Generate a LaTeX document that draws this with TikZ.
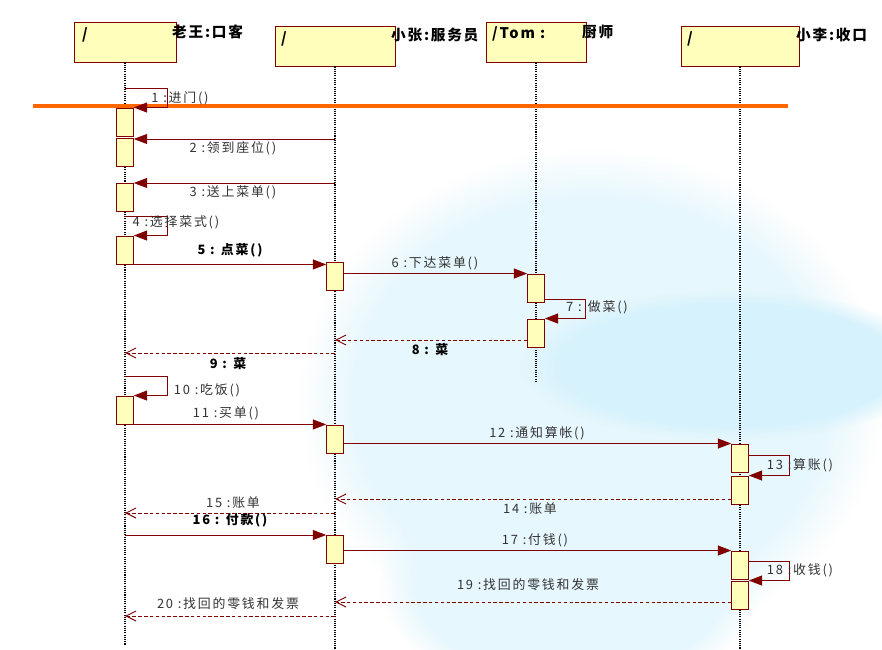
\documentclass[tikz,border=0pt]{standalone}
\usepackage{fontspec}
\setmainfont{Noto Sans CJK SC}
\newfontfamily\lblfont[LetterSpace=14]{Noto Sans CJK SC}
\newfontfamily\hdrfont[LetterSpace=12]{Noto Sans CJK SC}
\usetikzlibrary{arrows.meta, positioning, fadings}
\definecolor{umlred}{RGB}{128,0,0}
\definecolor{umlfill}{RGB}{255,255,187}
\definecolor{barorange}{RGB}{255,102,0}

\begin{document}
\begin{tikzpicture}[
  x=0.03cm, y=-0.03cm,
  obj/.style={draw=umlred, fill=umlfill, thick, minimum height=1.2cm, inner sep=0pt},
  act/.style={draw=umlred, fill=umlfill, thick, minimum width=0.5cm,
              minimum height=0.84cm, inner sep=0pt},
  life/.style={densely dotted, line width=0.9pt, black},
  msg/.style={-{Triangle[length=4mm, width=3mm]}, thick, draw=umlred},
  ret/.style={-{Straight Barb[length=3mm, width=3mm]}, thick, densely dashed, draw=umlred},
  lbl/.style={font=\lblfont\fontsize{11}{13}\selectfont, text=black!80, inner sep=1pt},
  blbl/.style={lbl, font=\lblfont\fontsize{11}{13}\selectfont\bfseries, text=black},
  hdr/.style={font=\hdrfont\fontsize{12.5}{14}\selectfont\bfseries, inner sep=0pt},
  tint/.style={path fading=circle with fuzzy edge 20 percent},
]
  \useasboundingbox (0,0) rectangle (882,650);
  \fill[white] (0,0) rectangle (882,650);
  % background tint
  \fill[cyan!10, tint] (300,150) rectangle (882,650);
  \fill[cyan!16, tint] (520,290) rectangle (940,440);
  \fill[cyan!10, tint] (380,470) rectangle (760,700);

  % objects
  \node[obj, minimum width=3.06cm] (cust) at (125,42) {};
  \node[obj, minimum width=3.6cm] (waiter) at (335,46) {};
  \node[obj, minimum width=3cm] (chef) at (536,42) {};
  \node[obj, minimum width=3.54cm] (cashier) at (740,46) {};

  \node[hdr, anchor=north west] at (82,27) {/};
  \node[hdr, anchor=north west] at (281,31) {/};
  \node[hdr, anchor=north west] at (492,26) {/Tom :};
  \node[hdr, anchor=north west] at (687,31) {/};

  \node[hdr, anchor=west] (custname) at (172,32) {老王:口客};
  \node[hdr, anchor=west] (waitername) at (391,35) {小张:服务员};
  \node[hdr, anchor=west] (chefname) at (582,32) {厨师};
  \node[hdr, anchor=west] (cashiername) at (796,35) {小李:收口};

  % lifelines
  \draw[life] (cust.south) -- ++(0,583);
  \draw[life] (waiter.south) -- ++(0,584);
  \draw[life] (chef.south) -- ++(0,320);
  \draw[life] (cashier.south) -- ++(0,584);

  \draw[barorange, line width=4.2pt] (33,106) -- (788,106);

  % activations
  \node[act] (a1) at (125,122) {};
  \node[act] (a2) at (125,152) {};
  \node[act] (a3) at (125,197) {};
  \node[act] (a4) at (125,250) {};
  \node[act] (a5) at (125,410) {};
  \node[act] (w1) at (335,276) {};
  \node[act] (w2) at (335,439) {};
  \node[act] (w3) at (335,549) {};
  \node[act] (c1) at (536,288) {};
  \node[act] (c2) at (536,333) {};
  \node[act] (k1) at (740,458) {};
  \node[act] (k2) at (740,490) {};
  \node[act] (k3) at (740,565) {};
  \node[act] (k4) at (740,595) {};

  % messages
  \coordinate (l1) at (125,88);
  \draw[msg] (l1) -- ++(42,0) |- (a1.north east);
  \node[lbl] at (180,98) {1 :进门()};

  \coordinate (l2) at (335,139);
  \draw[msg] (l2) -- (l2 -| a2.east);
  \node[lbl] at (233,148) {2 :领到座位()};

  \coordinate (l3) at (335,183);
  \draw[msg] (l3) -- (l3 -| a3.east);
  \node[lbl] at (233,192) {3 :送上菜单()};

  \coordinate (l4) at (125,216);
  \draw[msg] (l4) -- ++(42,0) |- (a4.north east);
  \node[lbl] at (176,222) {4 :选择菜式()};

  \draw[msg] (a4.south east) -- (a4.south east -| w1.west);
  \node[blbl] at (230,250) {5 : 点菜()};

  \draw[msg] (c1.north west -| w1.east) -- (c1.north west);
  \node[lbl] at (435,263) {6 :下达菜单()};

  \coordinate (l7) at (544,299);
  \draw[msg] (l7) -- ++(41,0) |- (c2.north east);
  \node[lbl] at (597,307) {7 : 做菜()};

  \coordinate (l8) at (335,340);
  \draw[ret] (l8 -| c2.west) -- (l8);
  \node[blbl] at (430,350) {8 : 菜};

  \coordinate (l9) at (335,353);
  \draw[ret] (l9) -- (l9 -| cust);
  \node[blbl] at (228,364) {9 : 菜};

  \coordinate (l10) at (125,376);
  \draw[msg] (l10) -- ++(42,0) |- (a5.north east);
  \node[lbl] at (207,390) {10 :吃饭()};

  \draw[msg] (a5.south east) -- (a5.south east -| w2.west);
  \node[lbl] at (226,413) {11 :买单()};

  \draw[msg] (k1.north west -| w2.east) -- (k1.north west);
  \node[lbl] at (537,433) {12 :通知算帐()};

  \coordinate (l13) at (748,455);
  \draw[msg] (l13) -- ++(41,0) |- (k2.north east);
  \node[lbl] at (800,465) {13 :算账()};

  \coordinate (l14) at (335,499);
  \draw[ret] (l14 -| k2.west) -- (l14);
  \node[lbl] at (530,509) {14 :账单};

  \coordinate (l15) at (335,513);
  \draw[ret] (l15) -- (l15 -| cust);
  \node[lbl] at (233,503) {15 :账单};

  \coordinate (l16) at (125,535);
  \draw[msg] (l16) -- (l16 -| w3.west);
  \node[blbl] at (230,520) {16 : 付款()};

  \draw[msg] (k3.north west -| w3.east) -- (k3.north west);
  \node[lbl] at (535,540) {17 :付钱()};

  \coordinate (l18) at (748,561);
  \draw[msg] (l18) -- ++(41,0) |- (k4.north east);
  \node[lbl] at (800,570) {18 :收钱()};

  \coordinate (l19) at (335,602);
  \draw[ret] (l19 -| k4.west) -- (l19);
  \node[lbl] at (528,585) {19 :找回的零钱和发票};

  \coordinate (l20) at (335,616);
  \draw[ret] (l20) -- (l20 -| cust);
  \node[lbl] at (228,604) {20 :找回的零钱和发票};
\end{tikzpicture}
\end{document}
